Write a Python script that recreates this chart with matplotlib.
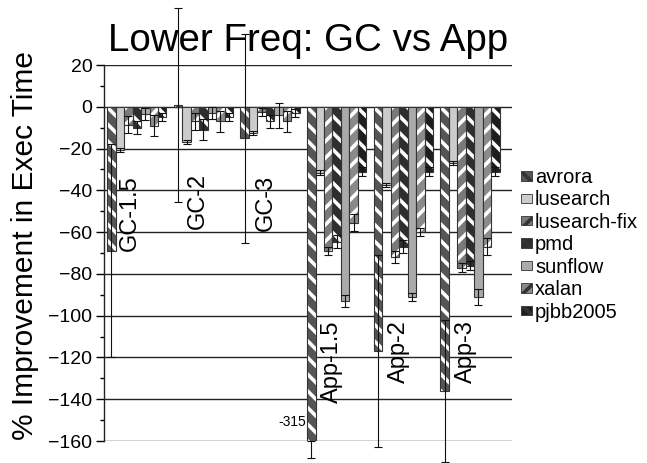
import matplotlib
matplotlib.use('Agg')
import matplotlib.pyplot as plt
import numpy as np
from matplotlib.patches import Patch

plt.rcParams['font.family'] = ['Liberation Sans', 'DejaVu Sans']
plt.rcParams['hatch.linewidth'] = 2.6

# ---------------- data ----------------
groups = ['GC-1.5', 'GC-2', 'GC-3', 'App-1.5', 'App-2', 'App-3']
benchmarks = ['avrora', 'lusearch', 'lusearch-fix', 'pmd', 'sunflow', 'xalan', 'pjbb2005']

avrora = [-69, 1, -15, -315, -117, -136]
lusearch = [-20.5, -16.7, -12.5, -31.5, -37.6, -27]
lusearch_fix = [-8.5, -7, -2.5, -69, -72, -77]
pmd = [-10, -11, -7, -64.5, -67, -76]
sunflow = [-3.5, -3, -4, -93, -91, -91]
xalan = [-9, -7, -7, -55.5, -60, -67]
pjbb2005 = [-5, -5, -3, -31, -31, -31]

avrora_err = [51, 46.5, 50, 0, 46, 34]
lusearch_err = [1, 1, 1, 1, 1, 1]
lusearch_fix_err = [4, 4, 2, 2, 3, 2]
pmd_err = [3, 5, 3, 3, 3, 2]
sunflow_err = [3, 3, 6, 3, 2, 4]
xalan_err = [5, 5, 5, 4, 2, 4]
pjbb2005_err = [2, 2, 2, 2, 2, 2]

clipped_label = '-315'
clipped_whisker_end = -168  # visible end of the clipped bar's whisker

series = [avrora, lusearch, lusearch_fix, pmd, sunflow, xalan, pjbb2005]
series_err = [avrora_err, lusearch_err, lusearch_fix_err, pmd_err, sunflow_err, xalan_err, pjbb2005_err]

# ---------------- styles ----------------
faces = ['#555555', '#cccccc', '#7a7a7a', '#2e2e2e', '#aaaaaa', '#8a8a8a', '#1e1e1e']
hatches = ['\\\\', None, '//', '\\\\', None, '//', '\\\\']

fig = plt.figure(figsize=(6.47, 4.63), dpi=100)
ax = fig.add_axes([0.16, 0.0475, 0.6313, 0.8121])

ymin, ymax = -160, 20
ax.set_ylim(ymin, ymax)
ax.set_xlim(-0.5, 5.63)

w = 0.127
x = np.arange(len(groups))
for j, (vals, errs) in enumerate(zip(series, series_err)):
    xs = x + (j - 3) * w
    vals = np.array(vals, dtype=float)
    if hatches[j]:
        ax.bar(xs, vals, w, color=faces[j], edgecolor='white', hatch=hatches[j],
               linewidth=0, zorder=3)
        ax.bar(xs, vals, w, fill=False, edgecolor='#333333', linewidth=0.8, zorder=4)
    else:
        ax.bar(xs, vals, w, color=faces[j], edgecolor='#333333', linewidth=0.8, zorder=3)
    errs = np.array(errs, dtype=float)
    inside = vals >= ymin
    ax.errorbar(xs[inside], vals[inside], yerr=errs[inside], fmt='none',
                ecolor='#111111', elinewidth=0.8, capsize=3, capthick=0.8,
                zorder=5, clip_on=False)
    # clipped bars
    for k in np.where(~inside)[0]:
        ax.errorbar([xs[k]], [ymin], yerr=[[ymin - clipped_whisker_end], [0]], fmt='none',
                    ecolor='#111111', elinewidth=0.8, capsize=3, capthick=0.8,
                    zorder=5, clip_on=False)
        ax.text(xs[k] - w / 2 - 0.01, -151, clipped_label, ha='right', va='center',
                fontsize=10)

# group labels inside the plot
label_dx = [-0.105, -0.084, -0.063, -0.07, -0.06, -0.06]
label_y = [-51, -45, -46, -122, -117, -117]
for i, g in enumerate(groups):
    ax.text(x[i] + label_dx[i], label_y[i], g, rotation=90, ha='center', va='center',
            fontsize=17)

# axes styling
ax.set_yticks(np.arange(-160, 21, 20))
ax.set_yticks(np.arange(-160, 21, 10), minor=True)
ax.tick_params(axis='y', which='major', length=6, width=1, labelsize=14, pad=2)
ax.tick_params(axis='y', which='minor', length=3, width=1)
ax.set_xticks([])
ax.yaxis.grid(True, which='major', color='#222222', linewidth=1, zorder=0)
ax.set_axisbelow(True)
for s in ['top', 'right', 'bottom']:
    ax.spines[s].set_visible(False)
ax.spines['left'].set_linewidth(1)
ax.spines['left'].set_color('#222222')

ax.set_ylabel('% Improvement in Exec Time', fontsize=21.5)
ax.yaxis.set_label_coords(-0.158, 0.52)
fig.text(0.476, 0.912, 'Lower Freq: GC vs App', ha='center', va='center', fontsize=27.7)

handles = [Patch(facecolor=faces[j], edgecolor='#333333', hatch=hatches[j], linewidth=0.6)
           for j in range(len(benchmarks))]
leg = fig.legend(handles, benchmarks, loc='upper left', bbox_to_anchor=(0.805, 0.637),
                 frameon=False, fontsize=14.5, handlelength=0.55, handleheight=0.35,
                 handletextpad=0.15, labelspacing=0.17, borderaxespad=0, borderpad=0)

fig.savefig('out.png', dpi=100)
